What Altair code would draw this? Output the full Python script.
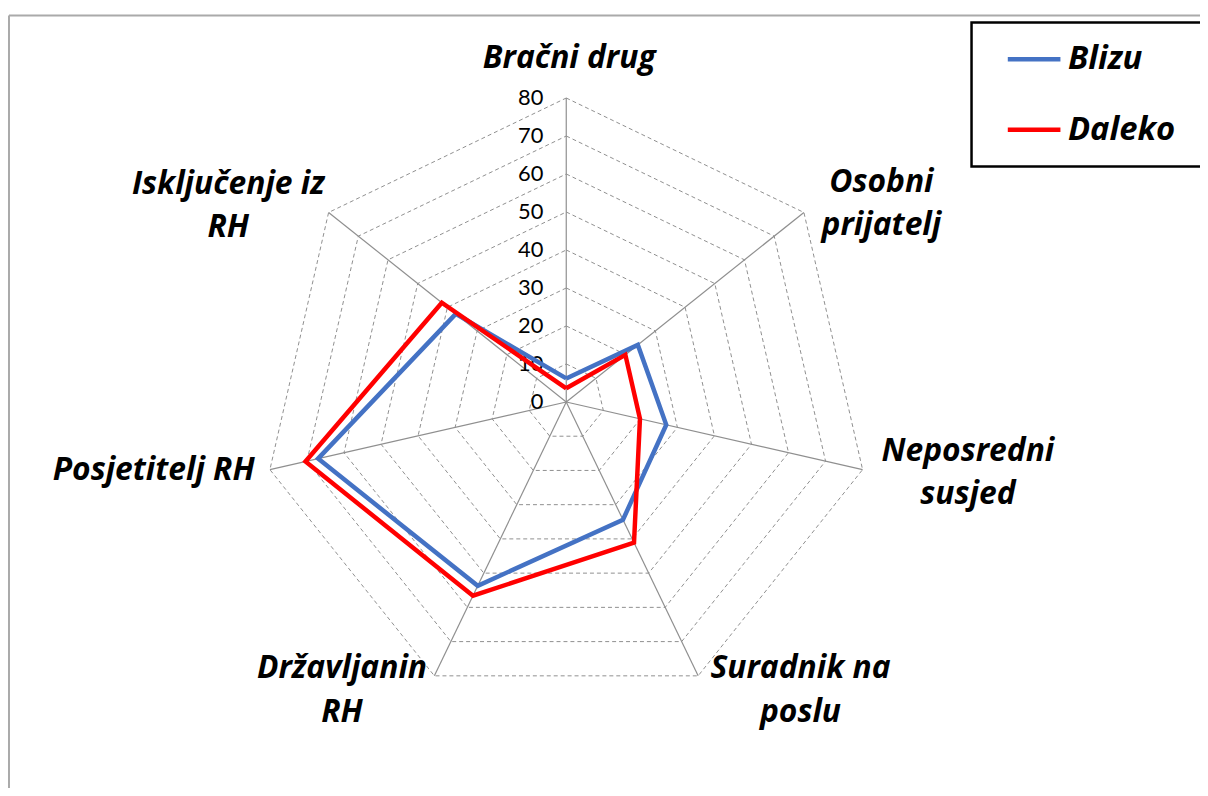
import math
import altair as alt
import pandas as pd

# ---------------- data ----------------
categories = ["Bračni drug", "Osobni prijatelj", "Neposredni susjed",
              "Suradnik na poslu", "Državljanin RH", "Posjetitelj RH",
              "Isključenje iz RH"]
category_labels = ["Bračni drug", "Osobni\nprijatelj", "Neposredni\nsusjed",
                   "Suradnik na\nposlu", "Državljanin\nRH", "Posjetitelj RH",
                   "Isključenje iz\nRH"]
series_names = ["Blizu", "Daleko"]
blizu = [6.2, 24.1, 27.0, 34.4, 53.7, 67.0, 37.2]
daleko = [3.6, 19.9, 19.9, 41.1, 56.6, 70.4, 41.9]
ticks = [0, 10, 20, 30, 40, 50, 60, 70, 80]

# ---------------- layout ----------------
N = len(categories)
W, H = 1200, 780
CX, CY = 562, 394          # plot-area pixel position of the centre
K = 306 / 80               # pixels per unit
FONT = "Lato"
LFONT = "Open Sans"
LSIZE = 32
GSIZE = 33
sx = alt.Scale(domain=[-CX / K, (W - CX) / K], nice=False, zero=False)
sy = alt.Scale(domain=[-(H - CY) / K, CY / K], nice=False, zero=False)


def xy(chart):
    return chart.transform_calculate(ang=f"datum.idx * 2 * PI / {N}").transform_calculate(
        x="datum.value * sin(datum.ang)",
        y="datum.value * cos(datum.ang)",
    )

# series table (closed polygons)
srows = []
for s, vals in zip(series_names, [blizu, daleko]):
    for i in range(N + 1):
        srows.append({"series": s, "idx": i % N, "order": i, "value": vals[i % N]})
sdf = pd.DataFrame(srows)

# grid rings
rrows = []
for r in ticks[1:]:
    for i in range(N + 1):
        rrows.append({"ring": r, "idx": i % N, "order": i, "value": r})
rdf = pd.DataFrame(rrows)

spdf = pd.DataFrame({"idx": list(range(N)), "value": [max(ticks)] * N})
tdf = pd.DataFrame({"idx": [0] * len(ticks), "value": ticks,
                    "lab": [str(t) for t in ticks]})
ldf = pd.DataFrame({"idx": list(range(N)), "value": [max(ticks)] * N,
                    "lab": category_labels})

X = alt.X("x:Q", scale=sx, axis=None)
Y = alt.Y("y:Q", scale=sy, axis=None)

rings = xy(alt.Chart(rdf)).mark_line(
    color="#8f8f8f", strokeWidth=1, strokeDash=[4, 3]
).encode(x=X, y=Y, detail="ring:N", order="order:Q")

spokes = xy(alt.Chart(spdf)).transform_calculate(x0="0", y0="0").mark_rule(
    color="#8f8f8f", strokeWidth=1.2
).encode(x=alt.X("x0:Q", scale=sx, axis=None), y=alt.Y("y0:Q", scale=sy, axis=None),
         x2="x:Q", y2="y:Q")

ticktext = xy(alt.Chart(tdf)).mark_text(
    align="right", baseline="middle", dx=-23, fontSize=22, font=FONT, color="#000000"
).encode(x=X, y=Y, text="lab:N")

lines = xy(alt.Chart(sdf)).mark_line(strokeWidth=4.5, strokeJoin="miter").encode(
    x=X, y=Y, order="order:Q",
    color=alt.Color("series:N",
                    scale=alt.Scale(domain=series_names, range=["#4472C4", "#FF0000"]),
                    legend=alt.Legend(title=None, orient="none", legendX=1004, legendY=20,
                                      symbolType="stroke", symbolSize=2809,
                                      symbolStrokeWidth=4.5, labelFontSize=GSIZE,
                                      labelFont=LFONT, labelFontStyle="italic",
                                      labelFontWeight="bold", labelColor="#000000",
                                      labelOffset=5, rowPadding=25, padding=0)),
)

# pixel offsets of each label's first line from the outer tip of its spoke
offsets = [(3, -40), (78, -31), (106, -19), (103, -8), (-93, -8), (-117, 0), (-101, -29)]
label_layers = []
for i, (dx, dy) in enumerate(offsets):
    label_layers.append(
        xy(alt.Chart(ldf)).transform_filter(f"datum.idx == {i}").mark_text(
            align="center", baseline="middle", dx=dx, dy=dy, fontSize=LSIZE,
            font=LFONT, fontStyle="italic", fontWeight="bold", color="#000000",
            lineBreak="\n", lineHeight=44,
        ).encode(x=X, y=Y, text="lab:N")
    )

one = pd.DataFrame({"a": [0]})
border_top = alt.Chart(one).mark_rule(color="#aaaaaa", strokeWidth=2).encode(
    x=alt.value(1), x2=alt.value(1300), y=alt.value(5))
border_left = alt.Chart(one).mark_rule(color="#aaaaaa", strokeWidth=2).encode(
    x=alt.value(1), y=alt.value(5), y2=alt.value(900))
legend_box = alt.Chart(one).mark_rect(fillOpacity=0, stroke="#000000", strokeWidth=2.5).encode(
    x=alt.value(970), x2=alt.value(1260), y=alt.value(12), y2=alt.value(157))

chart = alt.layer(
    border_top, border_left, rings, spokes, ticktext, lines, *label_layers, legend_box
).properties(width=W, height=H, padding=0, autosize="none").configure_view(stroke=None)

chart.save("out.html", embed_options={"renderer": "svg", "actions": False})
